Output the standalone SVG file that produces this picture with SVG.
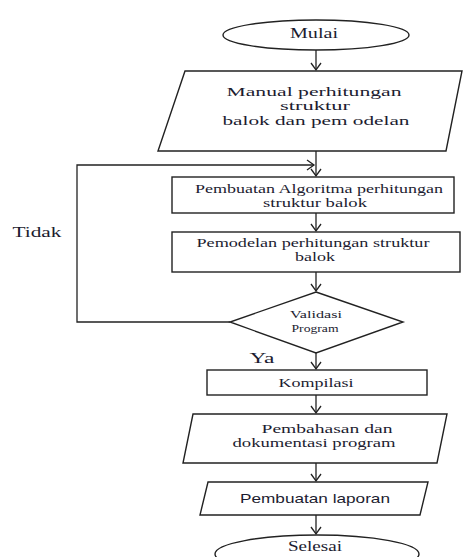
<svg xmlns="http://www.w3.org/2000/svg" width="463" height="557" viewBox="0 0 463 557">
<defs>
<style>
.s{fill:#fff;stroke:#222;stroke-width:1.4}
.c{fill:none;stroke:#222;stroke-width:1.3}
.t{font-family:"Liberation Serif","Times New Roman",serif;fill:#1c1c30;text-anchor:middle}
.ts{font-family:"Liberation Sans",Arial,sans-serif;fill:#1c1c30;text-anchor:middle}
</style>
<marker id="ah" markerWidth="12" markerHeight="12" refX="10" refY="6" orient="auto" markerUnits="userSpaceOnUse">
<path d="M3,1 L10,6 L3,11" fill="none" stroke="#222" stroke-width="1.3"/>
</marker>
</defs>
<rect width="463" height="557" fill="#fff"/>

<g id="connectors">
<line class="c" x1="316" y1="50" x2="316" y2="70" marker-end="url(#ah)"/>
<line class="c" x1="316" y1="151" x2="316" y2="176" marker-end="url(#ah)"/>
<polyline class="c" points="230,322 77,322 77,165 314,165" marker-end="url(#ah)"/>
<line class="c" x1="316" y1="213" x2="316" y2="231" marker-end="url(#ah)"/>
<line class="c" x1="316" y1="272" x2="316" y2="291" marker-end="url(#ah)"/>
<line class="c" x1="316" y1="353" x2="316" y2="369" marker-end="url(#ah)"/>
<line class="c" x1="316" y1="395" x2="316" y2="413" marker-end="url(#ah)"/>
<line class="c" x1="316" y1="463" x2="316" y2="481" marker-end="url(#ah)"/>
<line class="c" x1="316" y1="515" x2="316" y2="534" marker-end="url(#ah)"/>
</g>

<g id="mulai">
<ellipse class="s" cx="316" cy="35" rx="93" ry="15"/>
<text class="t" x="314" y="38" font-size="15" textLength="48" lengthAdjust="spacingAndGlyphs">Mulai</text>
</g>

<g id="manual">
<polygon class="s" points="185,71 462,71 446,151 158,151"/>
<text class="t" x="314" y="96" font-size="13.5" textLength="175" lengthAdjust="spacingAndGlyphs">Manual perhitungan</text>
<text class="t" x="315" y="110" font-size="13.5" textLength="70" lengthAdjust="spacingAndGlyphs">struktur</text>
<text class="t" x="316" y="125" font-size="13.5" textLength="187" lengthAdjust="spacingAndGlyphs">balok dan pem odelan</text>
</g>

<g id="algoritma">
<rect class="s" x="172" y="177" width="282" height="36"/>
<text class="t" x="319" y="193" font-size="13" textLength="248" lengthAdjust="spacingAndGlyphs">Pembuatan Algoritma perhitungan</text>
<text class="t" x="315" y="207" font-size="13" textLength="104" lengthAdjust="spacingAndGlyphs">struktur balok</text>
</g>

<g id="pemodelan">
<rect class="s" x="172" y="232" width="288" height="40"/>
<text class="t" x="313" y="247" font-size="13" textLength="233" lengthAdjust="spacingAndGlyphs">Pemodelan perhitungan struktur</text>
<text class="t" x="315" y="261" font-size="13" textLength="40" lengthAdjust="spacingAndGlyphs">balok</text>
</g>

<g id="validasi">
<polygon class="s" points="316,292 403,322 316,353 230,322"/>
<text class="t" x="316" y="318" font-size="11" textLength="52" lengthAdjust="spacingAndGlyphs">Validasi</text>
<text class="t" x="315" y="332" font-size="11" textLength="47" lengthAdjust="spacingAndGlyphs">Program</text>
</g>

<g id="kompilasi">
<rect class="s" x="207" y="370" width="220" height="25"/>
<text class="t" x="316" y="387" font-size="13" textLength="75" lengthAdjust="spacingAndGlyphs">Kompilasi</text>
</g>

<g id="pembahasan">
<polygon class="s" points="193,414 447,414 437,463 183,463"/>
<text class="t" x="327" y="433" font-size="13" textLength="131" lengthAdjust="spacingAndGlyphs">Pembahasan dan</text>
<text class="t" x="314" y="447" font-size="13" textLength="163" lengthAdjust="spacingAndGlyphs">dokumentasi program</text>
</g>

<g id="laporan">
<polygon class="s" points="208,482 428,482 420,515 200,515"/>
<text class="ts" x="315" y="503" font-size="13" textLength="150" lengthAdjust="spacingAndGlyphs">Pembuatan laporan</text>
</g>

<g id="selesai">
<ellipse class="s" cx="317" cy="554" rx="102" ry="19"/>
<text class="t" x="315" y="551" font-size="14" textLength="54" lengthAdjust="spacingAndGlyphs">Selesai</text>
</g>

<g id="labels">
<text class="t" x="37" y="237" font-size="15" textLength="49" lengthAdjust="spacingAndGlyphs">Tidak</text>
<text class="t" x="262" y="363" font-size="15" textLength="25" lengthAdjust="spacingAndGlyphs">Ya</text>
</g>
</svg>
